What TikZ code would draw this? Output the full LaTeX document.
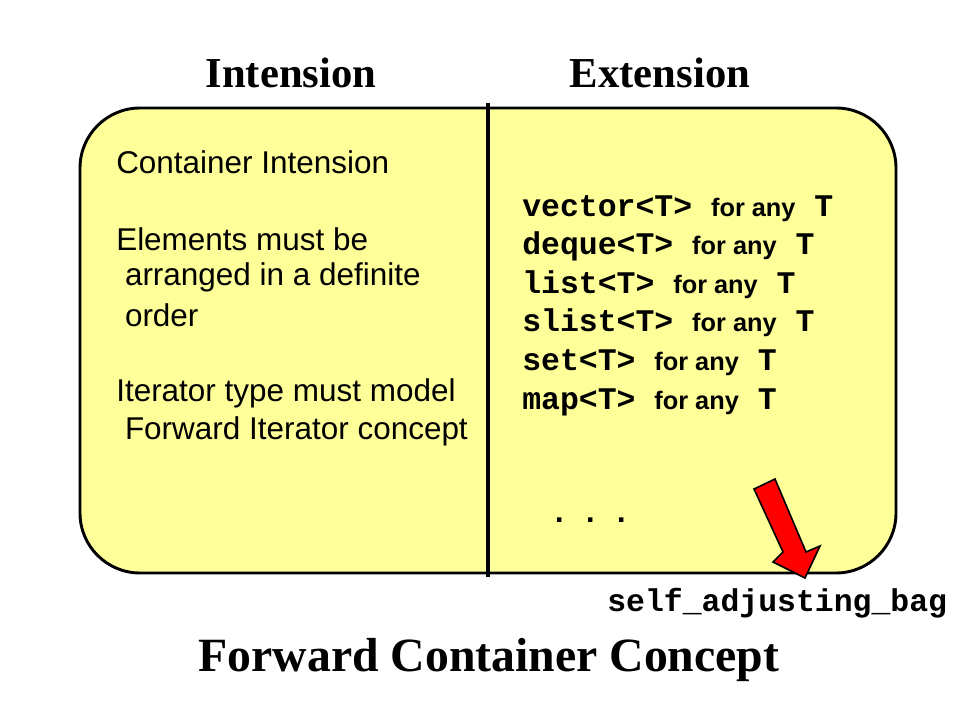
\documentclass[tikz,border=0pt]{standalone}
\usepackage{fontspec}
\setmainfont{Liberation Serif}
\setsansfont{Liberation Sans}
\setmonofont{Liberation Mono}
\newcommand\myany{{\sffamily\bfseries\fontsize{19}{22}\selectfont for any}}
\begin{document}
\begin{tikzpicture}[x=0.75pt,y=-0.75pt,
  title/.style={font=\fontsize{32}{38}\selectfont\bfseries, inner sep=0},
  lefttxt/.style={font=\sffamily\fontsize{23.6}{28.5}\selectfont, anchor=west, inner sep=0, align=left},
  code/.style={font=\ttfamily\bfseries\fontsize{23.6}{28}\selectfont, anchor=base west, inner sep=0},
  bigtitle/.style={font=\fontsize{35.8}{42}\selectfont\bfseries, inner sep=0}]
\useasboundingbox (0,0) rectangle (960,720);
\fill[white] (0,0) rectangle (960,720);
% box
\draw[line width=2.2pt, fill={rgb,255:red,255;green,255;blue,153}, rounded corners=45pt]
  (80,108) rectangle (896,573);
\draw[line width=2.4pt] (488,103) -- (488,577);
% titles
\node[title] (tint) at (291,73) {Intension};
\node[title] (text) at (660,73) {Extension};
% left text
\node[lefttxt] (c1) at (116,162) {Container Intension};
\node[lefttxt] (c2) at (116,239) {Elements must be};
\node[lefttxt] (c3) at (116,277) {\ arranged in a definite};
\node[lefttxt] (c4) at (116,315) {\ order};
\node[lefttxt] (c5) at (116,393) {Iterator type must model};
\node[lefttxt] (c6) at (116,431) {\ Forward Iterator concept};
% right list
\node[code] (r1) at (522,217) {vector<T> \myany{} T};
\node[code] (r2) at (522,255) {deque<T> \myany{} T};
\node[code] (r3) at (522,293) {list<T> \myany{} T};
\node[code] (r4) at (522,331) {slist<T> \myany{} T};
\node[code] (r5) at (522,370) {set<T> \myany{} T};
\node[code] (r6) at (522,409) {map<T> \myany{} T};
\node[code] (dots) at (549.5,522) {.\kern9.1pt.\kern9.1pt.};
\node[code] (bag) at (607,611) {self\_adjusting\_bag};
% arrow
\draw[line width=1.2pt, fill=red, line join=miter]
  (754,489) -- (775,479) -- (806,552) -- (820,546) -- (805,578) -- (773,562) -- (783,552) -- cycle;
% bottom title
\node[bigtitle] (ftitle) at (489,660) {Forward Container Concept};
\end{tikzpicture}
\end{document}
